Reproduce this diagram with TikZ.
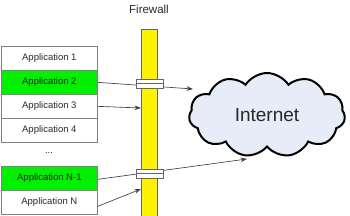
\documentclass[tikz,border=0pt]{standalone}
\usepackage{fontspec}
\setmainfont{Liberation Sans}
\usetikzlibrary{shapes.symbols,arrows.meta}
\definecolor{appgreen}{RGB}{0,240,0}
\definecolor{cloudfill}{RGB}{230,236,248}
\definecolor{txt}{RGB}{40,40,40}
\begin{document}
\begin{tikzpicture}[x=1pt,y=-1pt,
  appbox/.style={draw=black!50,line width=0.7pt,minimum width=96pt,minimum height=24pt,inner sep=0pt,anchor=north west,text=txt,font=\fontsize{9.5}{11}\selectfont},
  greenbox/.style={appbox,fill=appgreen},
  slotbox/.style={draw=black!60,fill=white,line width=0.7pt,minimum width=27pt,inner sep=0pt,anchor=north west},
  conn/.style={draw=black!75,line width=0.65pt},
  arr/.style={conn,-{Stealth[length=6.5pt,width=4.5pt]}}]
\useasboundingbox (0,0) rectangle (350,216);
% application boxes
\node[appbox]   (a1) at (1,46)  {Application 1};
\node[greenbox] (a2) at (1,70)  {Application 2};
\node[appbox]   (a3) at (1,94)  {Application 3};
\node[appbox]   (a4) at (1,118) {Application 4};
\node[text=txt,font=\fontsize{9.5}{11}\selectfont] (dots) at (49,153) {...};
\node[greenbox] (an1) at (1,166) {Application N-1};
\node[appbox]   (an) at (1,190) {Application N};
% firewall
\node[font=\fontsize{11.5}{13}\selectfont,text=txt] (fwl) at (149,9) {Firewall};
\node[draw=black!60,fill=yellow,line width=0.7pt,minimum width=16pt,minimum height=190pt,inner sep=0pt,anchor=north west] (fw) at (141,29) {};
% cloud
\node[cloud,cloud puffs=11,cloud puff arc=115,aspect=1.9,draw=black,line width=2pt,fill=cloudfill,minimum width=156pt,minimum height=84pt,inner sep=0pt,font=\fontsize{19}{22}\selectfont,text=txt] (net) at (267,115) {Internet};
% connector endpoints
\coordinate (c1) at (193,89);
\coordinate (c2) at (247,159);
\coordinate (f1) at (141,108);
\coordinate (f2) at (141,189);
\draw[arr] (a2.east) -- (c1);
\draw[arr] (a3.east) -- (f1);
\draw[arr] ([yshift=-1pt]an1.east) -- (c2);
\draw[arr] ([yshift=-4pt]an.east) -- (f2);
% slots
\node[slotbox,minimum height=4.5pt] (s1a) at (136,79) {};
\node[slotbox,minimum height=4.5pt] (s1b) at (136,83.5) {};
\node[slotbox,minimum height=4.5pt] (s2a) at (136,168.5) {};
\node[slotbox,minimum height=4.5pt] (s2b) at (136,173) {};
\end{tikzpicture}
\end{document}
